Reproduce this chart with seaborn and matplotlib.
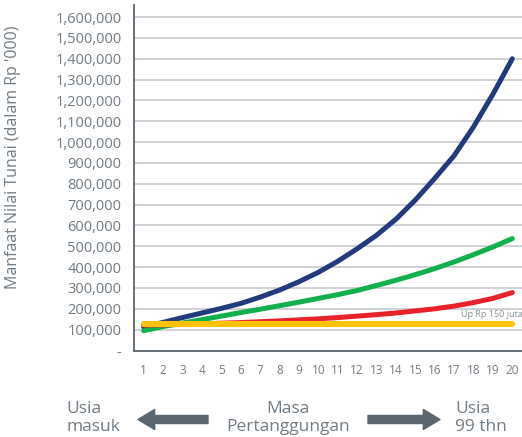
import numpy as np
import pandas as pd
import matplotlib
matplotlib.use("Agg")
import matplotlib.pyplot as plt
import matplotlib.ticker as mticker
import seaborn as sns

# Data (values in Rp '000)
tahun = list(range(1, 21))
biru = [113000, 135000, 158000, 180000, 202000, 226000, 256000, 290000, 330000, 375000,
        428000, 488000, 553000, 630000, 722000, 826000, 935000, 1073000, 1230000, 1400000]
hijau = [95000, 115000, 132000, 148000, 165000, 182000, 198000, 215000, 232000, 250000,
         268000, 288000, 312000, 337000, 364000, 393000, 425000, 460000, 497000, 537000]
merah = [122000, 123000, 125000, 128000, 131000, 134000, 138000, 142000, 147000, 152000,
         158000, 165000, 172000, 180000, 190000, 200000, 213000, 230000, 250000, 278000]
kuning = [127000] * 20
seri = ["biru", "hijau", "merah", "kuning"]
warna = {"biru": "#233b7c", "hijau": "#12b04c", "merah": "#e8212b", "kuning": "#ffc20e"}

y_ticks = list(range(0, 1700000, 100000))

df = pd.DataFrame({"tahun": tahun * 4,
                   "nilai": biru + hijau + merah + kuning,
                   "seri": sum([[s] * 20 for s in seri], [])})

sns.set_theme(style="white")
plt.rcParams["font.family"] = ["Open Sans", "DejaVu Sans"]

W, H = 522, 437
GRAY_TXT = "#717c85"
AXIS = "#5b6770"
GRID = "#c6cbd0"

fig = plt.figure(figsize=(W / 100, H / 100), dpi=100)
ax = fig.add_axes([134 / W, 1 - 350.5 / H, (W - 134) / W, 345.5 / H])

sns.lineplot(data=df, x="tahun", y="nilai", hue="seri", palette=warna,
             linewidth=3.6, legend=False, ax=ax, solid_capstyle="round")
# yellow line is a bit thicker
ax.lines[-1].set_linewidth(4.4)

ax.set_xlim(0.5, 20.5)
ax.set_ylim(0, 1658000)
ax.set_yticks(y_ticks)
ax.yaxis.set_major_formatter(mticker.FuncFormatter(lambda v, p: "-" if v == 0 else f"{int(v):,}"))
ax.grid(axis="y", color=GRID, linewidth=1.2)
ax.set_axisbelow(True)

ax.set_xticks(np.arange(0.5, 21, 1))
ax.set_xticklabels([])
ax.set_xticks(tahun, minor=True)
ax.set_xticklabels([str(t) for t in tahun], minor=True)
ax.tick_params(axis="x", which="major", direction="out", length=8, width=1.2, color=AXIS)
ax.tick_params(axis="x", which="minor", length=0, pad=10, labelsize=8.5, labelcolor=GRAY_TXT)
ax.tick_params(axis="y", direction="out", length=5, width=1.2, color=GRID,
               labelsize=10.5, labelcolor=GRAY_TXT, pad=4)

for s in ["top", "right"]:
    ax.spines[s].set_visible(False)
for s in ["left", "bottom"]:
    ax.spines[s].set_color(AXIS)
    ax.spines[s].set_linewidth(1.3)

ax.set_xlabel("")
ax.set_ylabel("Manfaat Nilai Tunai (dalam Rp '000)", fontsize=11.5, color=GRAY_TXT)
ax.yaxis.set_label_coords(-0.29, 0.56)

ax.text(20.55, 175000, "Up Rp 150 juta", fontsize=6.5, color="#8a949b", ha="right", va="center")

# bottom captions and arrows
def fx(x):
    return x / W

def fy(y):
    return 1 - y / H

cap = dict(fontsize=12.5, color=GRAY_TXT, va="center", linespacing=1.12)
fig.text(fx(66), fy(418), "Usia\nmasuk", ha="left", **cap)
fig.text(fx(288), fy(418), "Masa\nPertanggungan", ha="center", **cap)
fig.text(fx(455), fy(418), "Usia\n99 thn", ha="left", **cap)

arrow = dict(arrowstyle="simple,head_length=12,head_width=14.4,tail_width=5.8",
             mutation_scale=1, color=AXIS, shrinkA=0, shrinkB=0)
ax.annotate("", xy=(138, H - 419.5), xytext=(208, H - 419.5), xycoords="figure pixels",
            textcoords="figure pixels", arrowprops=arrow, annotation_clip=False)
ax.annotate("", xy=(440, H - 419.5), xytext=(368, H - 419.5), xycoords="figure pixels",
            textcoords="figure pixels", arrowprops=arrow, annotation_clip=False)

fig.savefig("out.png", dpi=100)
